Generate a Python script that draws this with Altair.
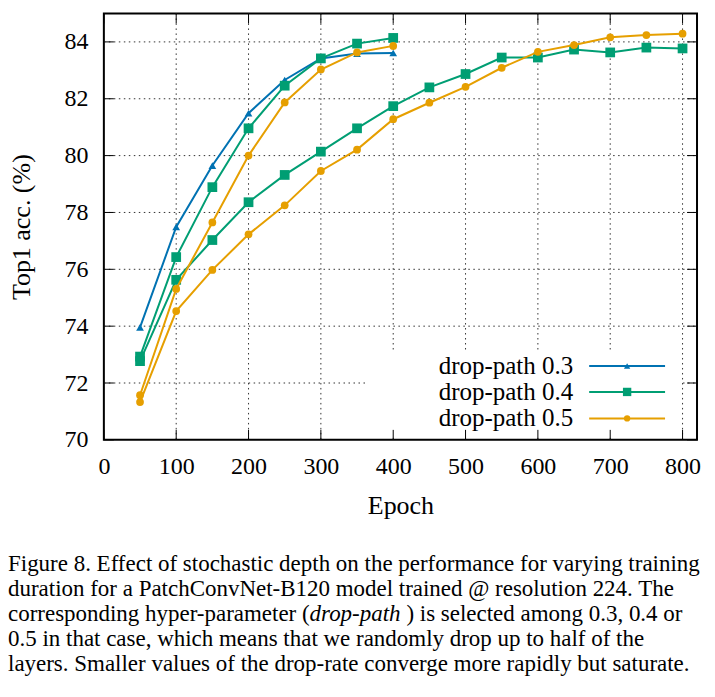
import altair as alt
import pandas as pd

# ---------------- data ----------------
epochs_400 = [50, 100, 150, 200, 250, 300, 350, 400]
epochs_800 = [50, 100, 150, 200, 250, 300, 350, 400, 450, 500, 550, 600, 650, 700, 750, 800]

dp03_400 = [73.96, 77.49, 79.65, 81.49, 82.66, 83.42, 83.59, 83.61]
dp04_400 = [72.93, 76.43, 78.89, 80.96, 82.46, 83.42, 83.94, 84.14]
dp04_800 = [72.77, 75.63, 77.03, 78.36, 79.32, 80.14, 80.96, 81.74,
            82.40, 82.87, 83.45, 83.45, 83.73, 83.63, 83.80, 83.77]
dp05_400 = [71.57, 75.31, 77.65, 80.00, 81.87, 83.03, 83.63, 83.86]
dp05_800 = [71.33, 74.53, 75.98, 77.23, 78.25, 79.46, 80.21, 81.28,
            81.86, 82.42, 83.09, 83.65, 83.89, 84.16, 84.24, 84.29]

series_names = ["drop-path 0.3", "drop-path 0.4", "drop-path 0.5"]
series_colors = ["#0072B2", "#009E73", "#E69F00"]
series_shapes = ["triangle-up", "square", "circle"]
series_sizes = [60, 95, 60]
legend_sizes = [40, 70, 40]

x_ticks = [0, 100, 200, 300, 400, 500, 600, 700, 800]
y_ticks = [70, 72, 74, 76, 78, 80, 82, 84]

caption_lines = [
    "Figure 8. Effect of stochastic depth on the performance for varying training",
    "duration for a PatchConvNet-B120 model trained @ resolution 224.  The",
    None,
    "0.5 in that case, which means that we randomly drop up to half of the",
    "layers. Smaller values of the drop-rate converge more rapidly but saturate.",
]
caption_line3 = ["corresponding hyper-parameter (", "drop-path", ") is selected among 0.3, 0.4 or"]

# ---------------- tables ----------------
runs = [
    (series_names[0], "a", epochs_400, dp03_400),
    (series_names[1], "a", epochs_400, dp04_400),
    (series_names[1], "b", epochs_800, dp04_800),
    (series_names[2], "a", epochs_400, dp05_400),
    (series_names[2], "b", epochs_800, dp05_800),
]
rows = []
for name, run, xs, ys in runs:
    for x, y in zip(xs, ys):
        rows.append({"series": name, "run": name + run, "epoch": x, "acc": y})
df = pd.DataFrame(rows)
xt = pd.DataFrame({"v": x_ticks})
yt = pd.DataFrame({"v": y_ticks})
one = pd.DataFrame({"k": [0]})

# ---------------- layout ----------------
W, H = 594, 427
FONT = "Liberation Serif"
TL = 10  # tick length

xscale = alt.Scale(domain=[0, 820], nice=False, zero=False)
yscale = alt.Scale(domain=[70, 85], nice=False, zero=False)
x_axis = alt.Axis(values=x_ticks, title="Epoch", grid=False, ticks=False, domain=False,
                  labelFont=FONT, labelFontSize=24, labelColor="black", labelPadding=15,
                  labelFlush=False, labelOverlap=False,
                  titleFont=FONT, titleFontSize=26, titleFontWeight="normal",
                  titleColor="black", titlePadding=14)
y_axis = alt.Axis(values=y_ticks, title="Top1 acc. (%)", grid=False, ticks=False, domain=False,
                  format="d", labelFont=FONT, labelFontSize=24, labelColor="black",
                  labelPadding=16, labelFlush=False, labelOverlap=False,
                  titleFont=FONT, titleFontSize=26, titleFontWeight="normal",
                  titleColor="black", titlePadding=29)


def X(field):
    return alt.X(field, type="quantitative", scale=xscale, axis=x_axis)


def Y(field):
    return alt.Y(field, type="quantitative", scale=yscale, axis=y_axis)


dash = dict(color="#333333", strokeWidth=1, strokeDash=[1.5, 3.5])
layers = []
# grid
layers.append(alt.Chart(xt).transform_filter("datum.v > 0").mark_rule(**dash)
              .encode(x=X("v"), y=alt.value(0), y2=alt.value(H)))
layers.append(alt.Chart(yt).transform_filter("datum.v > 70").mark_rule(**dash)
              .encode(y=Y("v"), x=alt.value(0), x2=alt.value(W)))
# legend background (key box clears the grid)
layers.append(alt.Chart(one).mark_rect(color="white")
              .encode(x=alt.value(263), x2=alt.value(577), y=alt.value(337), y2=alt.value(423)))
# inward ticks
tk = dict(color="black", strokeWidth=1)
layers.append(alt.Chart(xt).mark_rule(**tk).encode(x=X("v"), y=alt.value(H), y2=alt.value(H - TL)))
layers.append(alt.Chart(xt).mark_rule(**tk).encode(x=X("v"), y=alt.value(0), y2=alt.value(TL)))
layers.append(alt.Chart(yt).mark_rule(**tk).encode(y=Y("v"), x=alt.value(0), x2=alt.value(TL)))
layers.append(alt.Chart(yt).mark_rule(**tk).encode(y=Y("v"), x=alt.value(W), x2=alt.value(W - TL)))

# series
for i, name in enumerate(series_names):
    sub = alt.Chart(df).transform_filter(alt.datum.series == name)
    layers.append(sub.mark_line(color=series_colors[i], strokeWidth=2)
                  .encode(x=X("epoch"), y=Y("acc"), detail="run:N", order="epoch:Q"))
    layers.append(sub.mark_point(color=series_colors[i], filled=True, opacity=1,
                                 shape=series_shapes[i], size=series_sizes[i])
                  .encode(x=X("epoch"), y=Y("acc")))

# legend
leg_y = [353, 379, 405.5]
for i, name in enumerate(series_names):
    layers.append(alt.Chart(one).mark_text(align="right", baseline="middle", font=FONT,
                                           fontSize=25, color="black")
                  .encode(x=alt.value(470), y=alt.value(leg_y[i]), text=alt.value(name)))
    layers.append(alt.Chart(one).mark_rule(color=series_colors[i], strokeWidth=2)
                  .encode(x=alt.value(486), x2=alt.value(562), y=alt.value(leg_y[i])))
    layers.append(alt.Chart(one).mark_point(color=series_colors[i], filled=True, opacity=1,
                                            shape=series_shapes[i], size=legend_sizes[i])
                  .encode(x=alt.value(524), y=alt.value(leg_y[i])))

# caption
cap_y = [558, 583.5, 608.5, 633.5, 658]
CX = -96
CFS = 23
for j, line in enumerate(caption_lines):
    if line is None:
        continue
    layers.append(alt.Chart(one).mark_text(align="left", baseline="alphabetic", font=FONT,
                                           fontSize=CFS, color="black")
                  .encode(x=alt.value(CX), y=alt.value(cap_y[j]), text=alt.value(line)))
layers.append(alt.Chart(one).mark_text(align="left", baseline="alphabetic", font=FONT,
                                       fontSize=CFS, color="black")
              .encode(x=alt.value(CX), y=alt.value(cap_y[2]), text=alt.value(caption_line3[0])))
layers.append(alt.Chart(one).mark_text(align="left", baseline="alphabetic", font=FONT,
                                       fontSize=CFS, fontStyle="italic", color="black")
              .encode(x=alt.value(206), y=alt.value(cap_y[2]), text=alt.value(caption_line3[1])))
layers.append(alt.Chart(one).mark_text(align="left", baseline="alphabetic", font=FONT,
                                       fontSize=CFS, color="black")
              .encode(x=alt.value(303), y=alt.value(cap_y[2]), text=alt.value(caption_line3[2])))

chart = alt.layer(*layers).properties(
    width=W, height=H,
    autosize=alt.AutoSizeParams(type="none"),
    padding={"left": 96, "top": 5, "right": 10, "bottom": 245},
).configure_view(stroke="black", strokeWidth=2)

chart.save("out.html", embed_options={"renderer": "svg", "actions": False})
